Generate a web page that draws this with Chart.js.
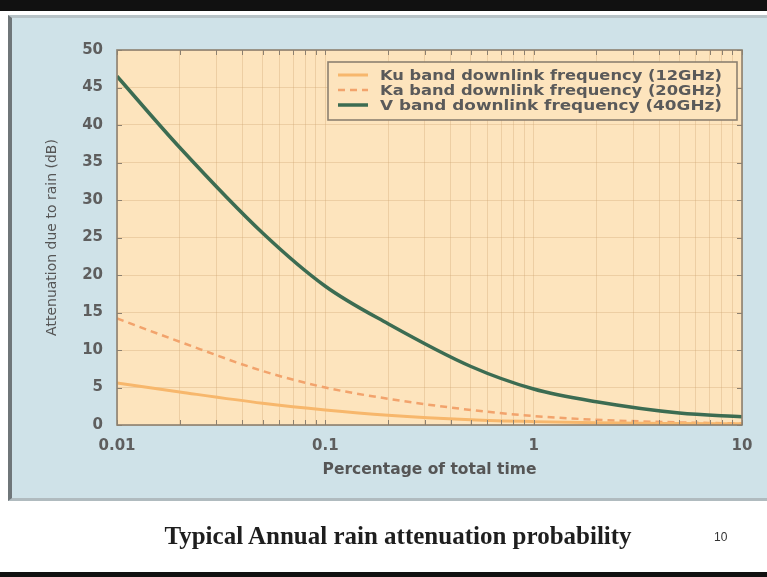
<!DOCTYPE html>
<html>
<head>
<meta charset="utf-8">
<script src="https://cdn.jsdelivr.net/npm/chart.js@4.4.1/dist/chart.umd.min.js"></script>
<style>
html, body { margin: 0; padding: 0; background: #fff; }
body { position: relative; width: 767px; height: 577px; overflow: hidden; }
#topbar { position: absolute; left: 0; top: 0; width: 767px; height: 11px; background: #111; }
#panel { position: absolute; left: 8px; top: 15px; width: 759px; height: 486px; background: #cfe2e8;
         border-left: 4px solid #6f7679; border-top: 3px solid #b7c3c7; border-bottom: 3px solid #b0bbbf; box-sizing: border-box; }
#chart { position: absolute; left: 0; top: 0; }
#caption { position: absolute; left: 0; top: 522px; width: 796px; text-align: center;
           font: bold 25px "Liberation Serif", serif; color: #1e1e1e; }
#pageno { position: absolute; left: 714px; top: 530px; font: 12px "Liberation Sans", sans-serif; color: #333; }
#bottombar { position: absolute; left: 0; top: 572px; width: 767px; height: 5px; background: #111; }
</style>
</head>
<body>
<div id="topbar"></div>
<div id="panel"></div>
<canvas id="chart" width="767" height="577"></canvas>
<div id="caption">Typical Annual rain attenuation probability</div>
<div id="pageno">10</div>
<div id="bottombar"></div>
<script>
// percentage of total time (x) and attenuation in dB (y)
const pctTime = [0.01, 0.02, 0.05, 0.1, 0.2, 0.5, 1, 2, 5, 10];
const kuBand = [5.6, 4.4, 2.9, 2.0, 1.3, 0.7, 0.45, 0.3, 0.2, 0.15];
const kaBand = [14.2, 11.1, 7.2, 5.0, 3.5, 2.0, 1.2, 0.7, 0.35, 0.2];
const vBand = [46.5, 37.0, 25.6, 18.5, 13.5, 7.8, 4.8, 3.1, 1.6, 1.1];

const seriesLabels = [
    'Ku band downlink frequency (12GHz)',
    'Ka band downlink frequency (20GHz)',
    'V band downlink frequency (40GHz)'
];
const xTickLabels = [0.01, 0.1, 1, 10];
const xTitle = 'Percentage of total time';
const yTitle = 'Attenuation due to rain (dB)';

const frameColor = '#8c8070';
const gridColor = 'rgba(205, 165, 115, 0.35)';

function toPoints(values) {
    return pctTime.map((x, i) => ({x: x, y: values[i]}));
}

const plotBackground = {
    id: 'plotBackground',
    beforeDraw(chart) {
        const {ctx, chartArea: a} = chart;
        ctx.save();
        ctx.fillStyle = '#fde4bd';
        ctx.fillRect(a.left, a.top, a.right - a.left, a.bottom - a.top);
        ctx.restore();
    }
};

const frameAndTicks = {
    id: 'frameAndTicks',
    afterDatasetsDraw(chart) {
        const {ctx, chartArea: a, scales} = chart;
        ctx.save();
        ctx.strokeStyle = frameColor;
        ctx.lineWidth = 1;
        ctx.beginPath();
        scales.x.ticks.forEach(t => {
            const px = Math.round(scales.x.getPixelForValue(t.value)) + 0.5;
            ctx.moveTo(px, a.top); ctx.lineTo(px, a.top + 5);
            ctx.moveTo(px, a.bottom); ctx.lineTo(px, a.bottom - 5);
        });
        scales.y.ticks.forEach(t => {
            const py = Math.round(scales.y.getPixelForValue(t.value)) + 0.5;
            ctx.moveTo(a.left, py); ctx.lineTo(a.left + 5, py);
            ctx.moveTo(a.right, py); ctx.lineTo(a.right - 5, py);
        });
        ctx.stroke();
        ctx.lineWidth = 1.6;
        ctx.strokeRect(a.left, a.top, a.right - a.left, a.bottom - a.top);
        ctx.restore();
    }
};

const boxLegend = {
    id: 'boxLegend',
    afterDraw(chart) {
        const {ctx, chartArea: a} = chart;
        const w = 409, h = 58;
        const left = a.right - 5 - w, top = a.top + 12;
        ctx.save();
        ctx.fillStyle = '#fde4bd';
        ctx.fillRect(left, top, w, h);
        ctx.strokeStyle = frameColor;
        ctx.lineWidth = 1.6;
        ctx.strokeRect(left, top, w, h);
        ctx.font = 'bold 14px "DejaVu Sans"';
        ctx.textBaseline = 'middle';
        chart.data.datasets.forEach((ds, i) => {
            const y = top + 13 + i * 15;
            ctx.strokeStyle = ds.borderColor;
            ctx.lineWidth = ds.borderWidth;
            ctx.setLineDash(ds.borderDash || []);
            ctx.beginPath();
            ctx.moveTo(left + 10, y); ctx.lineTo(left + 40, y);
            ctx.stroke();
            ctx.setLineDash([]);
            const tw = ctx.measureText(ds.label).width;
            ctx.save();
            ctx.translate(left + 52, y);
            ctx.scale(342 / tw, 1);
            ctx.fillStyle = '#5a5a5a';
            ctx.fillText(ds.label, 0, 1);
            ctx.restore();
        });
        ctx.restore();
    }
};

const ctx = document.getElementById('chart').getContext('2d');
const chart = new Chart(ctx, {
    type: 'line',
    data: {
        datasets: [
            {
                label: seriesLabels[0],
                data: toPoints(kuBand),
                borderColor: 'rgb(247, 183, 108)',
                borderWidth: 3,
                pointRadius: 0,
                cubicInterpolationMode: 'monotone'
            },
            {
                label: seriesLabels[1],
                data: toPoints(kaBand),
                borderColor: 'rgb(242, 163, 108)',
                borderWidth: 2.5,
                borderDash: [7, 5],
                pointRadius: 0,
                cubicInterpolationMode: 'monotone'
            },
            {
                label: seriesLabels[2],
                data: toPoints(vBand),
                borderColor: 'rgb(60, 108, 82)',
                borderWidth: 3.5,
                pointRadius: 0,
                cubicInterpolationMode: 'monotone'
            }
        ]
    },
    options: {
        responsive: false,
        animation: false,
        layout: {padding: {left: 40, top: 50, right: 25, bottom: 94}},
        plugins: {
            legend: {display: false},
            tooltip: {enabled: false}
        },
        scales: {
            x: {
                type: 'logarithmic',
                min: 0.01,
                max: 10,
                afterFit: s => { s.height = 58; },
                afterBuildTicks: s => {
                    s.ticks = s.ticks.filter(t => {
                        const m = t.value / Math.pow(10, Math.floor(Math.log10(t.value) + 1e-9));
                        return Math.abs(m - Math.round(m)) < 1e-6;
                    });
                },
                grid: {color: gridColor, drawTicks: false},
                border: {display: false},
                ticks: {
                    autoSkip: false,
                    maxRotation: 0,
                    padding: 12,
                    color: '#5e5e5e',
                    font: {family: 'DejaVu Sans', weight: 'bold', size: 15},
                    callback: value => {
                        const hit = xTickLabels.find(v => Math.abs(Math.log10(v) - Math.log10(value)) < 1e-6);
                        return hit !== undefined ? String(hit) : '';
                    }
                },
                title: {
                    display: true,
                    text: xTitle,
                    color: '#555',
                    font: {family: 'DejaVu Sans', weight: 'bold', size: 15.5},
                    padding: {top: 4, bottom: 4}
                }
            },
            y: {
                min: 0,
                max: 50,
                afterFit: s => { s.width = 77; },
                grid: {color: gridColor, drawTicks: false},
                border: {display: false},
                ticks: {
                    stepSize: 5,
                    padding: 14,
                    color: '#5e5e5e',
                    font: {family: 'DejaVu Sans', weight: 'bold', size: 15}
                },
                title: {
                    display: true,
                    text: yTitle,
                    color: '#555',
                    font: {family: 'DejaVu Sans', size: 14},
                    padding: {top: 4, bottom: 4}
                }
            }
        }
    },
    plugins: [plotBackground, frameAndTicks, boxLegend]
});
</script>
</body>
</html>
